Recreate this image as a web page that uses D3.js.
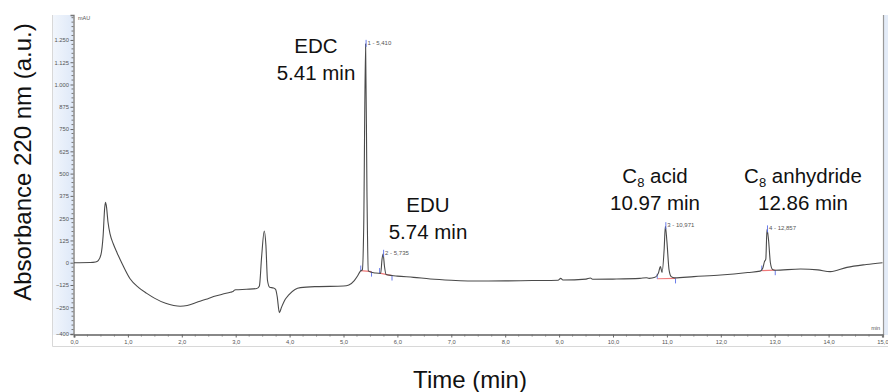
<!DOCTYPE html>
<html>
<head>
<meta charset="utf-8">
<script src="https://cdn.jsdelivr.net/npm/d3@7"></script>
<style>
  html, body { margin: 0; padding: 0; background: #fff; }
  svg { display: block; font-family: "Liberation Sans", Arial, sans-serif; }
</style>
</head>
<body>
<div id="chart"></div>
<script>
// chromatogram trace (min, mAU)
const times = [0.00, 0.30, 0.40, 0.45, 0.50, 0.54, 0.57, 0.585, 0.60, 0.63, 0.67, 0.73, 0.80, 0.90, 1.04,
  1.20, 1.35, 1.50, 1.70, 1.85, 1.97, 2.10, 2.28, 2.45, 2.59, 2.75, 2.90, 2.95, 2.97, 3.00, 3.20, 3.39,
  3.44, 3.48, 3.53, 3.56, 3.59, 3.63, 3.70, 3.74, 3.77, 3.81, 3.85, 3.92, 3.98, 4.10, 4.20, 4.50, 5.00,
  5.10, 5.20, 5.26, 5.31, 5.35, 5.375, 5.41, 5.435, 5.46, 5.50, 5.60, 5.69, 5.715, 5.735, 5.76, 5.79,
  5.90, 6.00, 6.30, 6.61, 7.00, 7.54, 8.00, 8.50, 8.98, 9.03, 9.07, 9.50, 9.58, 9.62, 10.00, 10.50,
  10.62, 10.67, 10.78, 10.84, 10.88, 10.91, 10.95, 10.971, 11.00, 11.04, 11.08, 11.14, 11.50, 12.00,
  12.50, 12.73, 12.78, 12.81, 12.835, 12.857, 12.885, 12.92, 12.96, 13.00, 13.48, 13.80, 14.03, 14.34,
  14.70, 15.00];
const mau = [0, 1, 4, 12, 45, 150, 310, 339, 320, 230, 160, 105, 55, -10, -90,
  -140, -172, -200, -228, -240, -244, -240, -222, -205, -190, -177, -166, -162, -155, -152, -149, -145,
  -130, 30, 178, 100, -100, -138, -142, -150, -190, -280, -250, -205, -182, -150, -140, -134, -131,
  -125, -100, -75, -48, -40, 200, 1228, 400, -45, -52, -58, -60, 20, 50, -20, -66,
  -72, -75, -82, -91, -98, -103, -102, -100, -98, -88, -97, -92, -86, -93, -92, -88,
  -84, -88, -82, -60, -22, -55, 80, 205, 120, -40, -78, -85, -78, -69,
  -55, -47, -30, 6, 20, 187, 130, 0, -38, -42, -35, -40, -50, -26,
  -10, 0];

// integrated peaks
const peakTimes = [5.410, 5.735, 10.971, 12.857];
const peakTops = [1228, 50, 205, 187];
const peakLabels = ["1 - 5,410", "2 - 5,735", "3 - 10,971", "4 - 12,857"];
const intStart = [5.32, 5.67, 10.82, 12.76];
const intStartVal = [-44, -58, -90, -44];
const intEnd = [5.52, 5.90, 11.16, 13.01];
const intEndVal = [-50, -72, -88, -42];

// compound annotations
const names = ["EDC", "EDU", "C|8| acid", "C|8| anhydride"];
const nameTimes = ["5.41 min", "5.74 min", "10.97 min", "12.86 min"];

const yMajor = [-400, -250, -125, 0, 125, 250, 375, 500, 625, 750, 875, 1000, 1125, 1250];
const xMajor = d3.range(0, 16, 1);

const W = 888, H = 392;
const svg = d3.select("#chart").append("svg").attr("width", W).attr("height", H);

const x = d3.scaleLinear().domain([0, 15]).range([74, 882.5]);
const y = d3.scaleLinear().domain([-400, 1390]).range([334, 15]);

// panel behind the y labels
const defs = svg.append("defs");
const grad = defs.append("linearGradient").attr("id", "lp").attr("x1", 0).attr("x2", 1);
grad.append("stop").attr("offset", "0%").attr("stop-color", "#f2f6fc");
grad.append("stop").attr("offset", "100%").attr("stop-color", "#dfe9f8");
svg.append("rect").attr("x", 52).attr("y", 15).attr("width", 21).attr("height", 320).attr("fill", "url(#lp)");
svg.append("rect").attr("x", 884).attr("y", 15).attr("width", 4).attr("height", 320).attr("fill", "#e4ecf8");

// outer light frame
svg.append("path").attr("d", "M52.5,15 V346.5 H888").attr("fill", "none").attr("stroke", "#d8d8d8");
// right frame line
svg.append("line").attr("x1", 883.5).attr("x2", 883.5).attr("y1", 15).attr("y2", 335)
  .attr("stroke", "#999").attr("stroke-width", 1.2);

// y axis
const yAxis = d3.axisLeft(y).tickValues(yMajor).tickSize(3)
  .tickFormat(d => d3.format(",")(d).replace(/,/g, "."));
const gy = svg.append("g").attr("transform", "translate(73.5,0)").call(yAxis);
gy.select(".domain").attr("stroke", "#777").attr("stroke-width", 1.3);
gy.selectAll(".tick line").attr("stroke", "#666");
gy.selectAll(".tick text").attr("font-size", 5.8).attr("fill", "#555").attr("x", -4.5)
  .attr("font-family", "'Liberation Sans', Arial, sans-serif");
gy.append("g").selectAll("line").data(d3.range(-400, 1390, 25).filter(v => !yMajor.includes(v)))
  .join("line").attr("x1", -2).attr("x2", 0).attr("y1", d => y(d)).attr("y2", d => y(d))
  .attr("stroke", "#777");

// x axis
const xAxis = d3.axisBottom(x).tickValues(xMajor).tickSize(3)
  .tickFormat(d => d3.format(".1f")(d).replace(".", ","));
const gx = svg.append("g").attr("transform", "translate(0,334.5)").call(xAxis);
gx.select(".domain").attr("stroke", "#888").attr("stroke-width", 2.2);
gx.selectAll(".tick line").attr("stroke", "#666");
gx.selectAll(".tick text").attr("font-size", 5.8).attr("fill", "#555").attr("y", 5)
  .attr("font-family", "'Liberation Sans', Arial, sans-serif");
gx.append("g").selectAll("line").data(d3.range(0.25, 15, 0.25).filter(v => v % 1 !== 0))
  .join("line").attr("x1", d => x(d)).attr("x2", d => x(d)).attr("y1", 0).attr("y2", 2)
  .attr("stroke", "#777");

svg.append("text").attr("x", 78).attr("y", 20).attr("font-size", 5.5).attr("fill", "#555").text("mAU");
svg.append("text").attr("x", 880).attr("y", 330).attr("text-anchor", "end").attr("font-size", 5.5)
  .attr("fill", "#555").text("min");

// integration baselines
svg.append("g").selectAll("line").data(peakTimes).join("line")
  .attr("x1", (d, i) => x(intStart[i])).attr("x2", (d, i) => x(intEnd[i]))
  .attr("y1", (d, i) => y(intStartVal[i])).attr("y2", (d, i) => y(intEndVal[i]))
  .attr("stroke", "#f07a7a").attr("stroke-width", 1.2);
svg.append("g").selectAll("line").data(peakTimes).join("line")
  .attr("x1", (d, i) => x(intStart[i])).attr("x2", (d, i) => x(intStart[i]))
  .attr("y1", (d, i) => y(intStartVal[i]) - 5).attr("y2", (d, i) => y(intStartVal[i]))
  .attr("stroke", "#5a6ee8").attr("stroke-width", 0.9);
svg.append("g").selectAll("line").data(peakTimes).join("line")
  .attr("x1", (d, i) => x(intEnd[i])).attr("x2", (d, i) => x(intEnd[i]))
  .attr("y1", (d, i) => y(intEndVal[i])).attr("y2", (d, i) => y(intEndVal[i]) + 5)
  .attr("stroke", "#5a6ee8").attr("stroke-width", 0.9);

// trace
const pts = times.map((t, i) => [t, mau[i]]);
svg.append("path").datum(pts)
  .attr("d", d3.line().x(d => x(d[0])).y(d => y(d[1])).curve(d3.curveMonotoneX))
  .attr("fill", "none").attr("stroke", "#4a4a4a").attr("stroke-width", 1.1);

// apex labels
const apex = svg.append("g").selectAll("g").data(peakTimes).join("g")
  .attr("transform", (d, i) => `translate(${x(d)},${y(peakTops[i])})`);
apex.append("line").attr("x1", 0.5).attr("x2", 0.5).attr("y1", -4).attr("y2", 3)
  .attr("stroke", "#5a6ee8").attr("stroke-width", 0.9);
apex.append("text").attr("x", 2).attr("y", 1).attr("font-size", 6).attr("fill", "#555")
  .text((d, i) => peakLabels[i]);

// compound annotations
const annX = [316, 428, 655, 803];
const annY = [53, 212, 183, 183];
names.forEach((n, i) => {
  const t = svg.append("text").attr("x", annX[i]).attr("y", annY[i]).attr("text-anchor", "middle")
    .attr("font-size", 20.5).attr("fill", "#111");
  const parts = n.split("|");
  parts.forEach((p, j) => {
    if (j % 2 === 1) {
      t.append("tspan").attr("font-size", 13).attr("dy", 4).text(p);
    } else if (j > 0) {
      t.append("tspan").attr("dy", -4).text(p);
    } else {
      t.append("tspan").text(p);
    }
  });
  svg.append("text").attr("x", annX[i]).attr("y", annY[i] + 27).attr("text-anchor", "middle")
    .attr("font-size", 20.5).attr("fill", "#111").text(nameTimes[i]);
});

// axis titles
svg.append("text").attr("transform", "translate(31,162) rotate(-90)").attr("text-anchor", "middle")
  .attr("font-size", 24).attr("fill", "#111").text("Absorbance 220 nm (a.u.)");
svg.append("text").attr("x", 470).attr("y", 388).attr("text-anchor", "middle")
  .attr("font-size", 24).attr("fill", "#111").text("Time (min)");
</script>
</body>
</html>
